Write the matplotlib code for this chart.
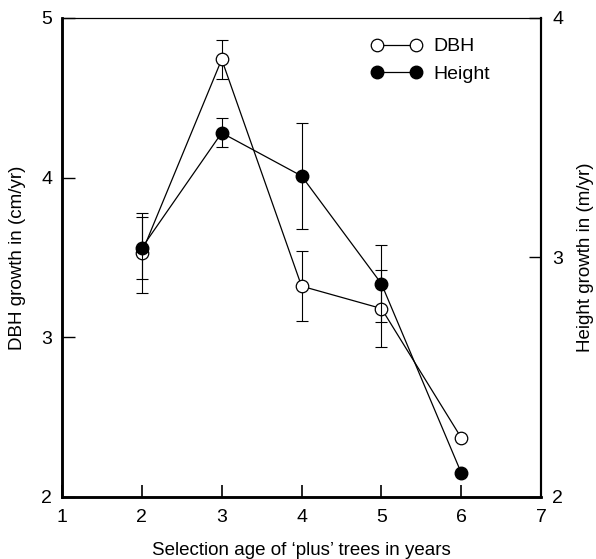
import matplotlib
matplotlib.use("Agg")
import matplotlib.pyplot as plt

plt.rcParams['font.family'] = ['Liberation Sans', 'DejaVu Sans']
plt.rcParams['font.size'] = 13.5

# selection age of plus trees
ages = [2, 3, 4, 5, 6]

# DBH growth (cm/yr), left axis
dbh = [3.53, 4.74, 3.32, 3.18, 2.37]
dbh_err = [0.25, 0.12, 0.22, 0.24, None]

# height growth (m/yr), right axis
height = [3.04, 3.52, 3.34, 2.89, 2.10]
height_err = [0.13, 0.06, 0.22, 0.16, None]

xticks = [1, 2, 3, 4, 5, 6, 7]
left_ticks = [2, 3, 4, 5]
right_ticks = [2, 3, 4]

fig = plt.figure(figsize=(5.96, 5.59), dpi=100)
ax = fig.add_axes([0.104, 0.111, 0.804, 0.857])
ax2 = ax.twinx()

# error bars only where there is an error value
def bars(axis, vals, errs):
    xs = [a for a, e in zip(ages, errs) if e is not None]
    ys = [v for v, e in zip(vals, errs) if e is not None]
    es = [e for e in errs if e is not None]
    axis.errorbar(xs, ys, yerr=es, fmt='none', ecolor='black',
                  elinewidth=0.8, capsize=4.5, capthick=0.8, zorder=2)

bars(ax, dbh, dbh_err)
bars(ax2, height, height_err)

l1, = ax.plot(ages, dbh, color='black', lw=0.9, marker='o', ms=9,
              mfc='white', mec='black', mew=0.9, zorder=3, label='DBH')
l2, = ax2.plot(ages, height, color='black', lw=0.9, marker='o', ms=9,
               mfc='black', mec='black', zorder=3, label='Height')

ax.set_xlim(1, 7)
ax.set_ylim(2, 5)
ax2.set_ylim(2, 4)
ax.set_xticks(xticks)
ax.set_yticks(left_ticks)
ax2.set_yticks(right_ticks)

ax.tick_params(axis='x', direction='in', length=9, width=1.2, pad=9, labelsize=14)
ax.tick_params(axis='y', direction='in', length=9, width=1.0, pad=7, labelsize=14)
ax2.tick_params(axis='y', direction='in', length=9, width=1.0, pad=8, labelsize=14)

for a in (ax, ax2):
    a.spines['left'].set_linewidth(1.8)
    a.spines['bottom'].set_linewidth(1.8)
    a.spines['right'].set_linewidth(1.5)
    a.spines['top'].set_linewidth(0.8)

ax.set_xlabel('Selection age of \u2018plus\u2019 trees in years', labelpad=11)
ax.set_ylabel('DBH growth in (cm/yr)', labelpad=11)
ax2.set_ylabel('Height growth in (m/yr)', labelpad=10)

ax2.legend([l1, l2], ['DBH', 'Height'], loc='upper right',
           bbox_to_anchor=(0.93, 0.995), frameon=False, handlelength=2.65,
           numpoints=2, markerscale=1.0, handletextpad=0.58, labelspacing=0.5,
           fontsize=14)

fig.savefig('out.png', dpi=100)
